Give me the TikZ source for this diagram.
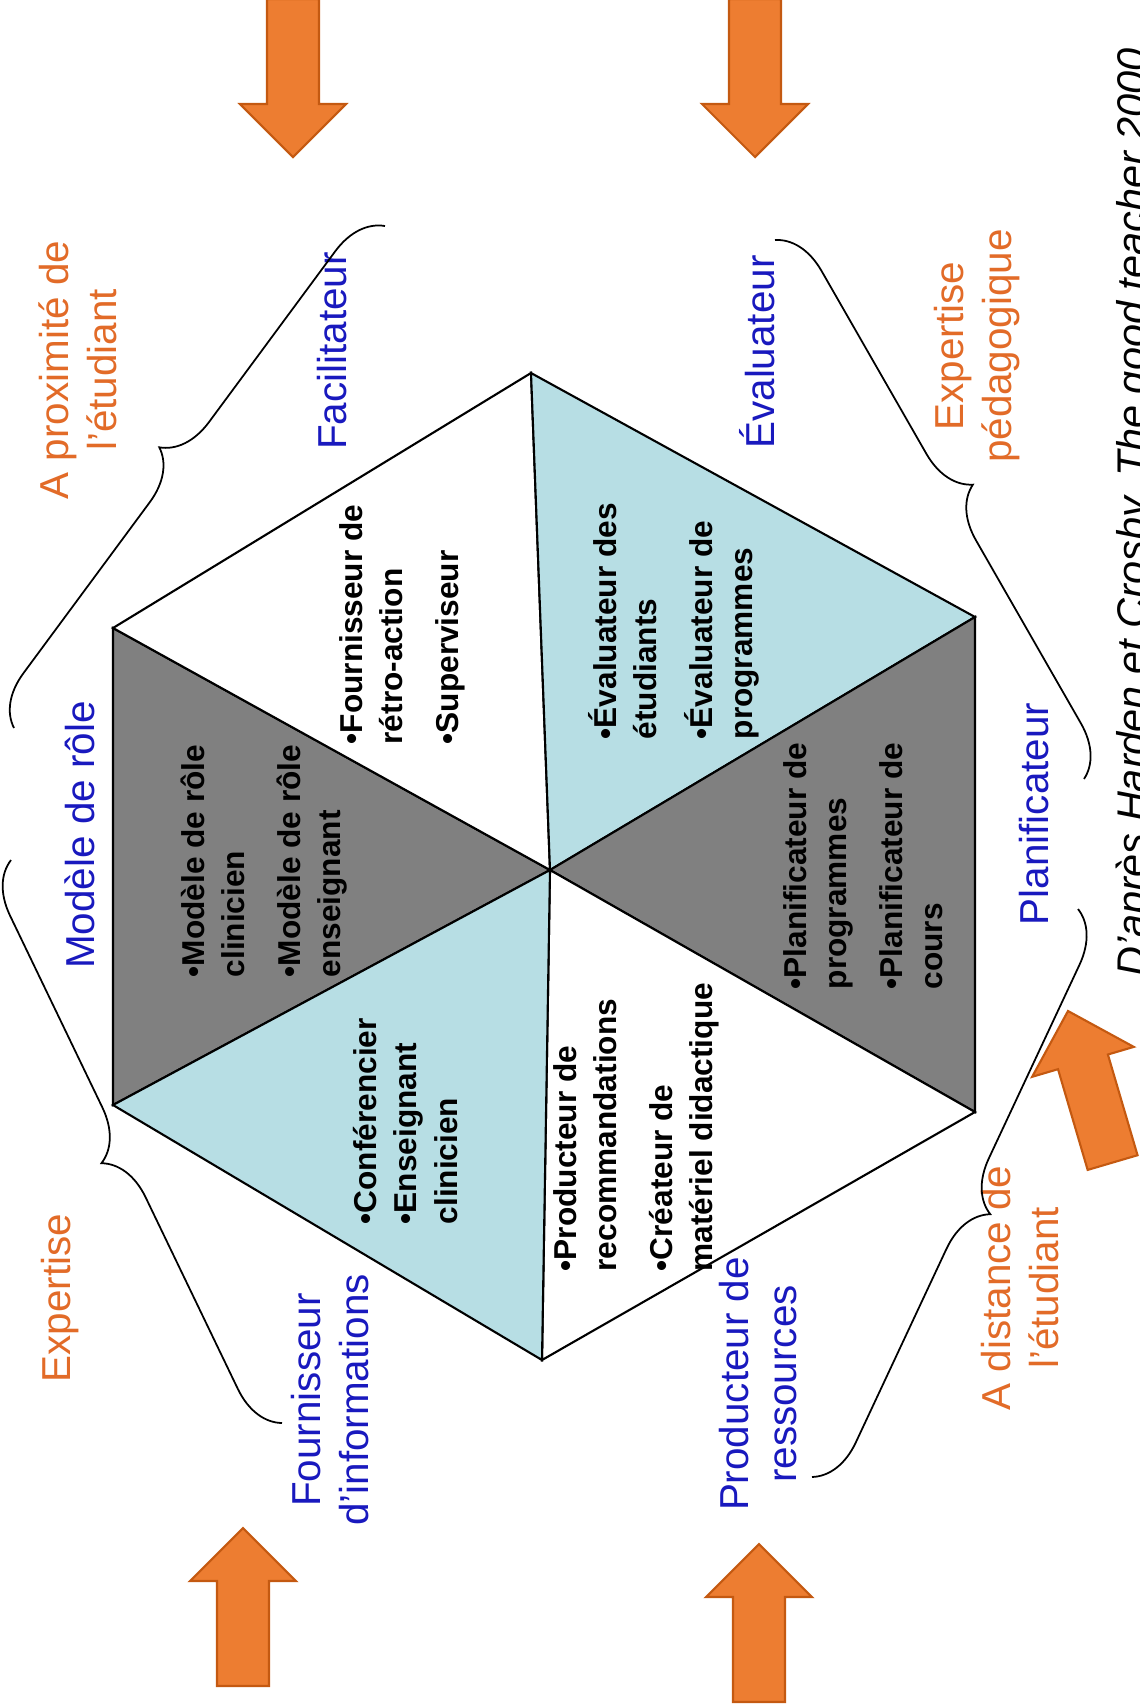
\documentclass[tikz,border=0pt]{standalone}
\usepackage{fontspec}
\setmainfont{Liberation Sans}
\usetikzlibrary{decorations.pathreplacing}

\definecolor{hexblue}{RGB}{183,222,228}
\definecolor{hexgray}{RGB}{128,128,128}
\definecolor{rolecol}{RGB}{25,25,190}
\definecolor{catcol}{RGB}{226,107,40}
\definecolor{arrowfill}{RGB}{237,125,49}
\definecolor{arrowedge}{RGB}{196,89,17}

\begin{document}
\begin{tikzpicture}

\tikzset{tri/.style={draw,line width=0.6pt}}
\tikzset{rolelabel/.style={rotate=90,align=center,text=rolecol,font=\fontsize{11.5}{13.8}\selectfont}}
\tikzset{catlabel/.style={rolelabel,text=catcol}}
\tikzset{itemtext/.style={rotate=90,anchor=north west,inner sep=0pt,align=left,font=\fontsize{9}{11.4}\selectfont\bfseries}}
\tikzset{bracket/.style={draw,line width=0.5pt,decorate,decoration={brace,amplitude=0.5cm}}}
\tikzset{bigarrow/.pic={\filldraw[fill=arrowfill,draw=arrowedge,line width=0.6pt] (0,0) -- (0.53,-0.53) -- (0.26,-0.53) -- (0.26,-1.58) -- (-0.26,-1.58) -- (-0.26,-0.53) -- (-0.53,-0.53) -- cycle;}}

\useasboundingbox (0,0) rectangle (11.39,-17.08);
\clip (0,0) rectangle (11.39,-17.08);

% hexagon
\coordinate (top) at (5.31,-3.73);
\coordinate (uleft) at (1.13,-6.28);
\coordinate (uright) at (9.75,-6.17);
\coordinate (ctr) at (5.50,-8.70);
\coordinate (lleft) at (1.13,-11.05);
\coordinate (lright) at (9.75,-11.12);
\coordinate (bot) at (5.42,-13.60);

\filldraw[tri,fill=hexgray] (ctr) -- (uleft) -- (lleft) -- cycle;
\filldraw[tri,fill=white] (ctr) -- (top) -- (uleft) -- cycle;
\filldraw[tri,fill=hexblue] (ctr) -- (top) -- (uright) -- cycle;
\filldraw[tri,fill=hexgray] (ctr) -- (uright) -- (lright) -- cycle;
\filldraw[tri,fill=white] (ctr) -- (lright) -- (bot) -- cycle;
\filldraw[tri,fill=hexblue] (ctr) -- (lleft) -- (bot) -- cycle;

\node[itemtext] (modeles) at (1.80,-9.78) {•Modèle de rôle\\clinicien\\[4.5pt]•Modèle de rôle\\enseignant};
\node[itemtext] (retro) at (3.39,-7.45) {•Fournisseur de\\rétro-action\\[4.5pt]•Superviseur};
\node[itemtext] (evals) at (5.88,-7.40) {•Évaluateur des\\étudiants\\[4.5pt]•Évaluateur de\\programmes};
\node[itemtext] (plans) at (7.83,-9.90) {•Planificateur de\\programmes\\[4.5pt]•Planificateur de\\cours};
\node[itemtext] (confs) at (3.53,-12.25) {•Conférencier\\•Enseignant\\clinicien};
\node[itemtext] (prods) at (5.53,-12.72) {•Producteur de\\recommandations\\[4.5pt]•Créateur de\\matériel didactique};

% roles
\node[rolelabel] (modele) at (0.80,-8.35) {Modèle de rôle};
\node[rolelabel] (facil) at (3.32,-3.51) {Facilitateur};
\node[rolelabel] (evalu) at (7.57,-3.52) {Évaluateur};
\node[rolelabel] (planif) at (10.34,-8.14) {Planificateur};
\node[rolelabel] (fourn) at (3.30,-14.00) {Fournisseur\\d'informations};
\node[rolelabel] (produc) at (7.58,-13.84) {Producteur de\\ressources};

% categories
\node[catlabel] (proxi) at (0.78,-3.70) {A proximité de\\l'étudiant};
\node[catlabel] (exped) at (9.77,-3.46) {Expertise\\pédagogique};
\node[catlabel] (exper) at (0.60,-12.98) {Expertise};
\node[catlabel] (dista) at (10.20,-12.88) {A distance de\\l'étudiant};

\node[rotate=90,anchor=base west,inner sep=0pt,font=\fontsize{11.8}{14}\selectfont\itshape] (source) at (11.46,-9.77) {D'après Harden et Crosby, The good teacher 2000};

% braces
\coordinate (b1a) at (0.14,-7.28);
\coordinate (b1b) at (3.85,-2.26);
\coordinate (b2a) at (7.75,-2.40);
\coordinate (b2b) at (10.84,-7.79);
\coordinate (b3a) at (2.82,-14.23);
\coordinate (b3b) at (0.11,-8.60);
\coordinate (b4a) at (10.78,-9.09);
\coordinate (b4b) at (8.12,-14.77);

\draw[bracket] (b1a) -- (b1b);
\draw[bracket] (b2a) -- (b2b);
\draw[bracket] (b3a) -- (b3b);
\draw[bracket] (b4a) -- (b4b);

% arrows
\pic[rotate=180] at (2.93,-1.57) {bigarrow};
\pic[rotate=180] at (7.55,-1.57) {bigarrow};
\pic at (2.43,-15.28) {bigarrow};
\pic at (7.59,-15.44) {bigarrow};
\pic[rotate=16.4] at (10.68,-10.11) {bigarrow};

\end{tikzpicture}
\end{document}
